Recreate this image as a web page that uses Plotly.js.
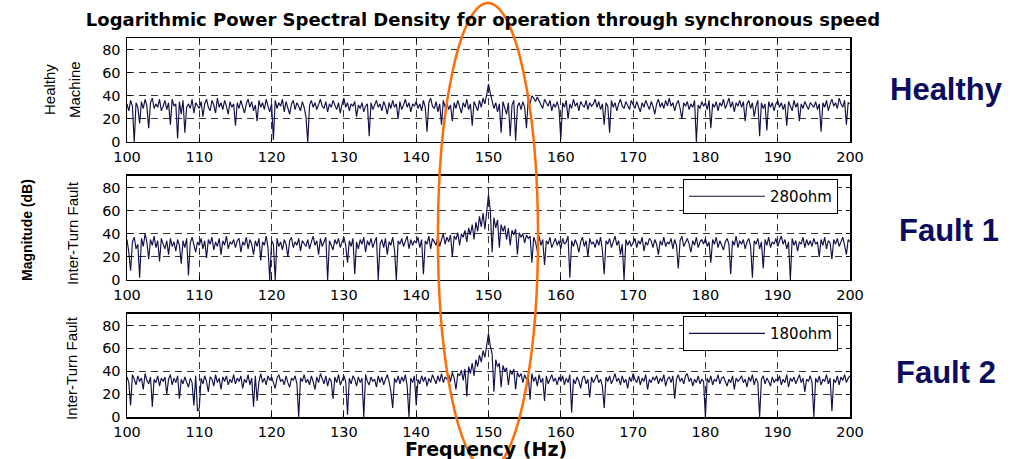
<!DOCTYPE html>
<html>
<head>
<meta charset="utf-8">
<script src="https://cdn.plot.ly/plotly-3.0.1.min.js"></script>
<style>html,body{margin:0;padding:0;background:#fff;}#chart{width:1019px;height:459px;}</style>
</head>
<body>
<div id="chart"></div>
<script>
// Frequency grid (Hz): 100 .. 200, step 0.25
const freqStart = 100;
const freqStep = 0.25;
const xTicks = [100,110,120,130,140,150,160,170,180,190,200];
const yTicks = [0,20,40,60,80];

// Healthy machine magnitude (dB)
const healthy = [
33,27,36,31,0,34,30,16,35,29,37,31,12,34,38,29,33,30,37,27,
31,36,28,34,15,37,31,33,3,35,24,36,8,30,33,29,37,25,34,31,
29,35,22,33,37,30,27,36,32,25,38,30,34,28,36,31,24,35,30,33,
14,34,29,36,31,25,33,37,30,35,27,32,18,36,30,34,28,37,31,26,
33,2,36,29,34,31,37,26,35,30,24,33,36,28,34,31,27,35,30,22,
0,32,36,30,34,28,33,37,31,29,35,26,33,30,36,31,28,34,25,33,
38,30,34,27,33,31,35,22,32,29,34,26,31,33,5,34,28,32,36,30,
33,27,35,31,24,34,29,36,30,33,20,35,28,32,37,30,34,26,33,31,
35,29,33,27,36,30,9,34,38,31,29,35,26,33,15,36,30,34,28,32,
18,34,29,36,31,25,34,30,37,28,33,14,35,31,27,36,30,38,33,41,
50,42,36,29,34,26,33,8,35,30,24,34,5,32,36,1,31,34,28,35,
30,12,37,33,40,38,35,39,36,33,29,37,34,31,36,27,33,30,35,29,
2,34,30,36,20,33,29,37,31,34,27,35,32,30,36,28,34,31,33,37,
30,35,28,33,15,34,31,8,36,30,34,27,33,37,31,29,35,32,28,36,
33,29,35,31,26,34,30,36,32,28,35,31,24,33,37,30,34,29,36,31,
38,31,34,27,33,36,29,20,34,31,35,28,33,30,36,0,32,29,35,31,
34,28,36,12,33,30,35,27,34,31,37,29,33,38,30,35,26,34,31,36,
30,35,18,33,36,29,34,22,31,36,5,34,29,33,10,35,30,34,27,33,
36,30,34,28,33,14,35,31,27,36,30,34,18,33,29,35,31,28,34,32,
30,35,28,33,9,34,30,36,27,33,37,31,34,29,38,33,30,36,15,34,
33];

// Inter-turn fault, 280 ohm (dB)
const fault280 = [
35,24,8,33,37,27,31,2,36,29,40,33,18,35,30,38,28,34,16,36,
31,27,34,22,36,29,33,25,35,30,14,34,28,36,4,32,37,29,24,33,
30,36,27,34,19,35,31,37,26,33,29,36,22,34,30,38,27,33,31,35,
28,34,36,24,33,30,37,27,35,31,22,34,29,36,17,33,30,38,28,0,
34,31,0,36,29,33,26,35,31,20,34,37,28,33,30,36,25,34,31,29,
35,27,33,38,30,34,22,36,29,33,37,0,34,30,26,35,31,36,28,33,
37,30,15,34,29,36,5,33,27,35,31,37,24,34,30,36,28,33,37,0,
31,35,28,36,22,33,30,37,26,0,34,31,36,29,33,38,27,35,30,34,
32,37,28,35,5,34,31,38,27,36,33,30,38,29,35,40,31,37,33,39,
20,38,35,41,30,40,37,43,33,45,39,48,35,50,42,55,46,58,44,62,
74,60,24,54,45,52,28,48,42,47,35,45,30,43,39,44,22,41,37,40,
32,39,36,38,15,37,33,25,38,30,35,13,34,31,37,28,33,36,30,34,
27,36,31,33,38,2,34,29,35,31,24,33,37,29,34,20,36,31,33,28,
35,30,37,26,5,34,31,36,28,33,38,30,34,22,31,0,35,30,34,29,
33,36,28,34,31,37,25,33,30,36,34,28,35,31,22,34,30,37,29,33,
31,36,27,35,30,10,34,38,29,33,36,31,24,34,30,37,28,33,35,31,
36,29,33,15,35,31,37,28,34,30,26,33,36,31,5,34,30,38,28,34,
31,35,27,33,36,29,2,34,31,36,27,33,10,35,30,37,28,33,31,36,
29,34,38,31,35,27,33,0,36,30,34,25,33,31,37,28,35,30,34,29,
36,31,33,20,35,30,37,27,34,32,18,35,31,36,29,33,37,30,22,35,
33];

// Inter-turn fault, 180 ohm (dB)
const fault180 = [
35,30,10,37,33,28,36,31,34,24,38,32,29,35,9,33,30,36,27,34,
31,35,20,33,37,28,34,30,36,16,33,29,35,31,26,34,30,10,36,5,
8,34,29,36,31,22,35,33,27,37,30,34,24,35,31,36,28,33,30,37,
29,34,31,36,25,33,30,37,28,34,9,36,14,31,38,30,34,28,36,32,
35,30,25,34,37,31,33,28,36,30,26,34,32,36,29,0,34,31,37,30,
33,28,36,31,24,35,30,38,33,29,36,27,34,31,16,35,30,37,28,33,
36,31,2,34,29,36,33,27,35,30,34,0,37,31,28,35,31,33,26,36,
30,35,28,33,37,31,22,8,34,30,36,29,35,31,37,27,0,34,30,36,
10,33,29,36,31,35,27,34,30,37,33,29,36,31,38,30,35,33,37,31,
39,34,24,38,36,41,32,42,18,44,38,47,36,50,44,54,48,58,52,63,
73,62,55,22,50,44,47,26,45,40,43,28,41,37,42,24,39,35,38,30,
37,33,36,15,38,31,35,27,37,30,34,14,36,29,33,37,31,34,28,35,
31,36,28,34,30,37,4,33,29,35,31,25,34,36,29,33,17,35,30,34,
37,30,33,27,8,35,31,36,29,33,38,31,34,28,36,30,33,25,35,31,
38,33,30,36,28,34,31,37,24,33,30,35,32,36,29,34,31,37,27,33,
35,30,36,16,33,37,31,34,29,36,38,31,34,27,33,30,36,29,33,31,
0,34,30,36,28,33,31,37,29,34,35,31,27,33,30,36,24,34,31,33,
36,30,33,26,35,31,37,28,34,30,0,33,36,29,34,31,27,35,30,33,
31,36,28,33,30,37,26,34,31,35,29,33,37,30,34,22,33,31,36,30,
0,34,30,36,28,33,31,37,29,34,5,33,30,36,28,35,32,37,30,34,
36];

const seriesNames = ['Healthy', '280ohm', '180ohm'];
const panelLabels = ['Healthy', 'Fault 1', 'Fault 2'];

function freqs(n){ const a=[]; for(let i=0;i<n;i++) a.push(freqStart+i*freqStep); return a; }

const lineColor = '#10104a';
const lineStyle = {color:lineColor, width:1.15};
const traces = [
  {x: freqs(healthy.length), y: healthy, type:'scatter', mode:'lines', name: seriesNames[0],
   line:lineStyle, xaxis:'x', yaxis:'y', showlegend:false},
  {x: freqs(fault280.length), y: fault280, type:'scatter', mode:'lines', name: seriesNames[1],
   line:lineStyle, xaxis:'x2', yaxis:'y2', legend:'legend2', showlegend:true},
  {x: freqs(fault180.length), y: fault180, type:'scatter', mode:'lines', name: seriesNames[2],
   line:lineStyle, xaxis:'x3', yaxis:'y3', legend:'legend3', showlegend:true}
];

const tickFont = {family:'DejaVu Sans, Arial, sans-serif', size:14.5, color:'#000'};
function xax(anchor){
  return {anchor:anchor, range:[100,200], tickvals:xTicks, ticktext:xTicks.map(String),
    showgrid:true, gridcolor:'#333', griddash:'7px,5px', gridwidth:1,
    showline:true, mirror:'ticks', linecolor:'#000', linewidth:1.5,
    ticks:'inside', ticklen:4, tickcolor:'#000', tickfont:tickFont, ticklabelstandoff:1,
    zeroline:false, fixedrange:true};
}
function yax(anchor, domain){
  return {anchor:anchor, domain:domain, range:[0,90], tickvals:yTicks, ticktext:yTicks.map(String),
    showgrid:true, gridcolor:'#333', griddash:'7px,5px', gridwidth:1,
    showline:true, mirror:'ticks', linecolor:'#000', linewidth:1.5,
    ticks:'inside', ticklen:4, tickcolor:'#000', tickfont:tickFont, ticklabelstandoff:2,
    zeroline:false, fixedrange:true};
}

const sideFont = {family:'Liberation Sans Narrow, Liberation Sans, Arial, sans-serif', size:15, color:'#000'};
const bigFont = {family:'Liberation Sans, Arial, sans-serif', size:31, color:'#0b0b60', weight:'bold'};
const legendBase = {bgcolor:'#fff', bordercolor:'#000', borderwidth:1,
  font:{family:'DejaVu Sans, Arial, sans-serif', size:15, color:'#000'}, xanchor:'right', yanchor:'top',
  itemwidth:76, tracegroupgap:0};

const layout = {
  width:1019, height:459,
  margin:{l:127, r:169, t:38, b:42},
  paper_bgcolor:'#fff', plot_bgcolor:'#fff',
  title:{text:'Logarithmic Power Spectral Density for operation through synchronous speed',
    font:{family:'DejaVu Sans, Arial, sans-serif', size:18, color:'#000', weight:'bold'},
    xref:'container', x:0.474, xanchor:'center', yref:'container', y:0.956, yanchor:'middle'},
  xaxis: xax('y'), xaxis2: xax('y2'), xaxis3: xax('y3'),
  yaxis: yax('x', [0.7256,1]), yaxis2: yax('x2', [0.3615,0.6359]), yaxis3: yax('x3', [0,0.2718]),
  legend2: Object.assign({x:0.9834, y:0.628}, legendBase),
  legend3: Object.assign({x:0.9834, y:0.266}, legendBase),
  annotations:[
    {text:'Healthy', xref:'paper', yref:'paper', x:-0.1065, y:0.8628, textangle:-90, showarrow:false, font:sideFont, xanchor:'center', yanchor:'middle'},
    {text:'Machine', xref:'paper', yref:'paper', x:-0.0719, y:0.8628, textangle:-90, showarrow:false, font:sideFont, xanchor:'center', yanchor:'middle'},
    {text:'Inter-Turn Fault', xref:'paper', yref:'paper', x:-0.0747, y:0.4855, textangle:-90, showarrow:false, font:sideFont, xanchor:'center', yanchor:'middle'},
    {text:'Inter-Turn Fault', xref:'paper', yref:'paper', x:-0.0761, y:0.1293, textangle:-90, showarrow:false, font:sideFont, xanchor:'center', yanchor:'middle'},
    {text:'Magnitude (dB)', xref:'paper', yref:'paper', x:-0.1383, y:0.4934, textangle:-90, showarrow:false,
      font:{family:'Liberation Sans Narrow, Liberation Sans, Arial, sans-serif', size:14, color:'#000', weight:'bold'}, xanchor:'center', yanchor:'middle'},
    {text:'Frequency (Hz)', xref:'paper', yref:'paper', x:0.4965, y:-0.0844, showarrow:false,
      font:{family:'DejaVu Sans, Arial, sans-serif', size:19, color:'#000', weight:'bold'}, xanchor:'center', yanchor:'middle'},
    {text:panelLabels[0], xref:'paper', yref:'paper', x:1.1328, y:0.8654, showarrow:false, font:bigFont, xanchor:'center', yanchor:'middle'},
    {text:panelLabels[1], xref:'paper', yref:'paper', x:1.1369, y:0.4934, showarrow:false, font:bigFont, xanchor:'center', yanchor:'middle'},
    {text:panelLabels[2], xref:'paper', yref:'paper', x:1.1328, y:0.1187, showarrow:false, font:bigFont, xanchor:'center', yanchor:'middle'}
  ],
  shapes:[
    {type:'circle', xref:'paper', yref:'paper', x0:0.430, x1:0.5685, y0:-0.1398, y1:1.0923,
     line:{color:'#ff6d0a', width:2.5}, layer:'above'}
  ]
};

Plotly.newPlot('chart', traces, layout, {displayModeBar:false, staticPlot:true});
</script>
</body>
</html>
